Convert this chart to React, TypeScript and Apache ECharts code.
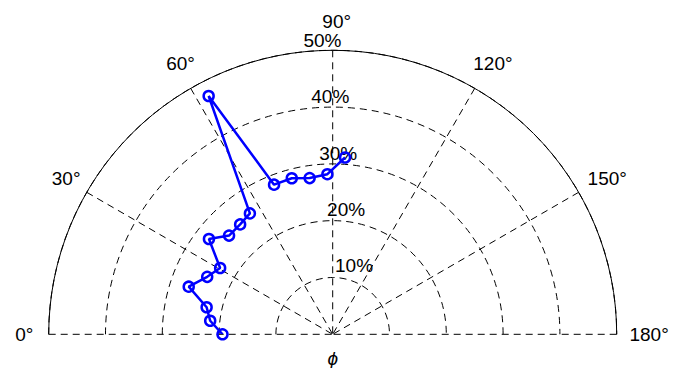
import React, { useEffect, useRef } from "react";
import * as echarts from "echarts";

// series values: [radius %, angle °]
const radii = [19.4, 21.7, 22.7, 26.7, 24.3, 23.0, 27.5, 25.2, 25.3, 25.8, 47.3, 28.3, 28.4, 27.8, 28.2, 31.2];
const angles = [0, 6.3, 12.1, 18.3, 24.6, 30.5, 37.6, 43.6, 49.9, 55.6, 62.5, 68.6, 75.3, 81.6, 88.1, 94.0];

// tick values and labels
const radialTicks = [10, 20, 30, 40, 50];
const radialLabels = ["10%", "20%", "30%", "40%", "50%"];
const angleTicks = [0, 30, 60, 90, 120, 150, 180];
const angleLabels = ["0°", "30°", "60°", "90°", "120°", "150°", "180°"];
const axisTitle = "ϕ";

const FONT = "'Liberation Sans', Arial, Helvetica, sans-serif";

export default function App() {
  const ref = useRef<HTMLDivElement>(null);

  useEffect(() => {
    const chart = echarts.init(ref.current!, null, { renderer: "svg" });
    const dash = { color: "#000", width: 1, type: [7, 5] as any };
    chart.setOption({
      animation: false,
      backgroundColor: "#ffffff",
      polar: { center: [332.7, 334.3], radius: 284 },
      angleAxis: {
        type: "value",
        min: 0,
        max: 180,
        interval: 30,
        startAngle: 180,
        endAngle: 0,
        clockwise: true,
        axisLine: { show: true, lineStyle: { color: "#000", width: 1 } },
        axisTick: { show: false },
        axisLabel: { show: false },
        splitLine: { show: true, lineStyle: dash },
      },
      radiusAxis: {
        type: "value",
        min: 0,
        max: 50,
        interval: 10,
        axisLine: { show: false },
        axisTick: { show: false },
        axisLabel: { show: false },
        splitLine: { show: true, lineStyle: dash },
      },
      series: [
        {
          type: "line",
          coordinateSystem: "polar",
          data: radii.map((r, i) => [r, angles[i]]),
          symbol: "circle",
          symbolSize: 10,
          showSymbol: true,
          lineStyle: { color: "#0000ff", width: 2.5 },
          itemStyle: { color: "rgba(0,0,0,0)", borderColor: "#0000ff", borderWidth: 2.5 },
          z: 10,
        },
      ],
    });

    const toPx = (r: number, a: number) =>
      chart.convertToPixel({ seriesIndex: 0 } as any, [r, a]) as unknown as number[];

    const graphics: any[] = [];
    angleTicks.forEach((a, i) => {
      const [x, y] = toPx(55, a);
      graphics.push({
        type: "text",
        x: x + 4,
        y,
        style: {
          text: angleLabels[i],
          fill: "#000",
          fontSize: 19,
          fontFamily: FONT,
          align: "center",
          verticalAlign: "middle",
        },
      });
    });
    radialTicks.forEach((r, i) => {
      const [x, y] = toPx(r + 0.5, 82);
      graphics.push({
        type: "text",
        x: x + 10.6,
        y,
        style: {
          text: radialLabels[i],
          fill: "#000",
          fontSize: 19,
          fontFamily: FONT,
          align: "left",
          verticalAlign: "bottom",
        },
      });
    });
    const [cx, cy] = toPx(0, 0);
    graphics.push({
      type: "text",
      x: cx,
      y: cy + 24.5,
      style: {
        text: axisTitle,
        fill: "#000",
        fontSize: 19,
        fontStyle: "italic",
        fontFamily: FONT,
        align: "center",
        verticalAlign: "middle",
      },
    });
    chart.setOption({ graphic: graphics });

    return () => chart.dispose();
  }, []);

  return (
    <div
      ref={ref}
      style={{ position: "absolute", left: 0, top: 0, width: 684, height: 368 }}
    />
  );
}
